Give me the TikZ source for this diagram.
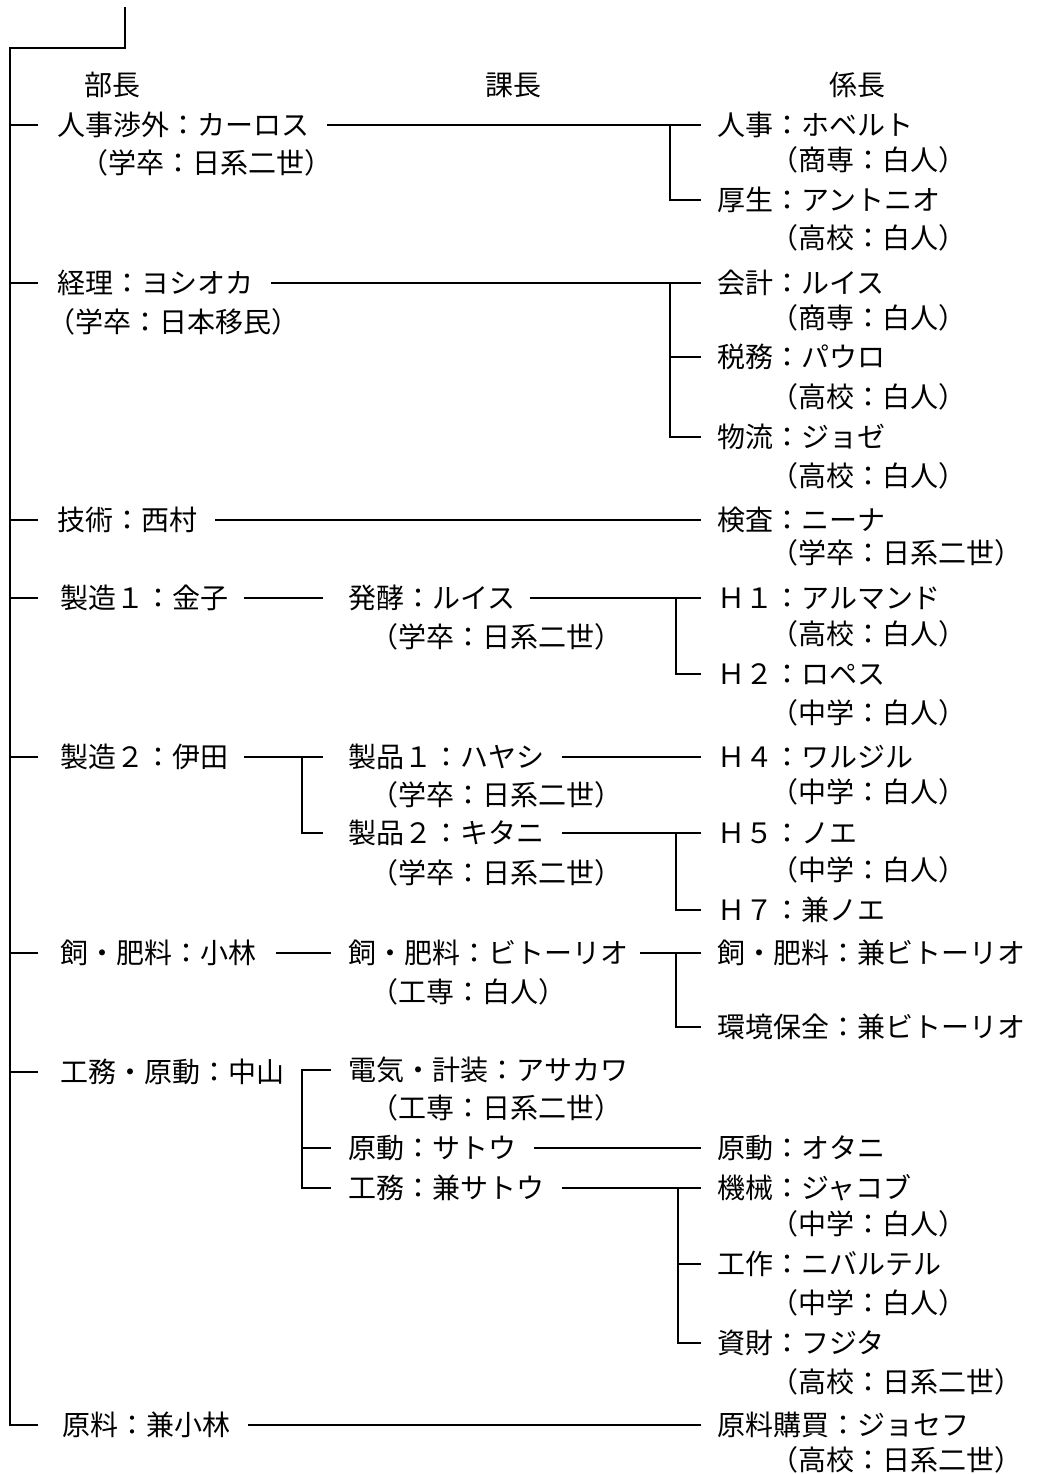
\documentclass[tikz,border=0pt]{standalone}
\usepackage{fontspec}
\setmainfont{Noto Sans CJK JP}
\usetikzlibrary{calc}
\begin{document}
\begin{tikzpicture}[x=0.75pt,y=-0.75pt,
  lbl/.style={anchor=west, inner sep=0pt, text height=18pt, text depth=2pt,
              font=\fontsize{21}{25}\selectfont},
  hd/.style={lbl, anchor=center},
  ln/.style={line width=1.1pt, line cap=rect}]
\useasboundingbox (0,0) rectangle (1061,1474);

% headers
\node[hd] (h1) at (112,85) {部長};
\node[hd] (h2) at (513,85) {課長};
\node[hd] (h3) at (857,85) {係長};

% 部長
\node[lbl] (b1)  at (57,125)  {人事渉外：カーロス};
\node[lbl] (b1s) at (80,163)  {（学卒：日系二世）};
\node[lbl] (b2)  at (57,283)  {経理：ヨシオカ};
\node[lbl] (b2s) at (47,322)  {（学卒：日本移民）};
\node[lbl] (b3)  at (57,520)  {技術：西村};
\node[lbl] (b4)  at (60,598)  {製造１：金子};
\node[lbl] (b5)  at (60,757)  {製造２：伊田};
\node[lbl] (b6)  at (60,953)  {飼・肥料：小林};
\node[lbl] (b7)  at (60,1072) {工務・原動：中山};
\node[lbl] (b8)  at (62,1425) {原料：兼小林};

% 課長
\node[lbl] (c4)   at (348,598)  {発酵：ルイス};
\node[lbl] (c4s)  at (370,637)  {（学卒：日系二世）};
\node[lbl] (c51)  at (348,757)  {製品１：ハヤシ};
\node[lbl] (c51s) at (370,795)  {（学卒：日系二世）};
\node[lbl] (c52)  at (348,833)  {製品２：キタニ};
\node[lbl] (c52s) at (370,873)  {（学卒：日系二世）};
\node[lbl] (c6)   at (348,953)  {飼・肥料：ビトーリオ};
\node[lbl] (c6s)  at (370,992)  {（工専：白人）};
\node[lbl] (c71)  at (348,1070) {電気・計装：アサカワ};
\node[lbl] (c71s) at (370,1108) {（工専：日系二世）};
\node[lbl] (c72)  at (348,1148) {原動：サトウ};
\node[lbl] (c73)  at (348,1188) {工務：兼サトウ};

% 係長
\node[lbl] (k11)  at (717,125)  {人事：ホベルト};
\node[lbl] (k11s) at (770,160)  {（商専：白人）};
\node[lbl] (k12)  at (717,200)  {厚生：アントニオ};
\node[lbl] (k12s) at (770,238)  {（高校：白人）};
\node[lbl] (k21)  at (717,283)  {会計：ルイス};
\node[lbl] (k21s) at (770,318)  {（商専：白人）};
\node[lbl] (k22)  at (717,357)  {税務：パウロ};
\node[lbl] (k22s) at (770,397)  {（高校：白人）};
\node[lbl] (k23)  at (717,437)  {物流：ジョゼ};
\node[lbl] (k23s) at (770,476)  {（高校：白人）};
\node[lbl] (k3)   at (717,520)  {検査：ニーナ};
\node[lbl] (k3s)  at (770,553)  {（学卒：日系二世）};
\node[lbl] (k41)  at (717,598)  {Ｈ１：アルマンド};
\node[lbl] (k41s) at (770,634)  {（高校：白人）};
\node[lbl] (k42)  at (717,674)  {Ｈ２：ロペス};
\node[lbl] (k42s) at (770,713)  {（中学：白人）};
\node[lbl] (k51)  at (717,757)  {Ｈ４：ワルジル};
\node[lbl] (k51s) at (770,792)  {（中学：白人）};
\node[lbl] (k52)  at (717,833)  {Ｈ５：ノエ};
\node[lbl] (k52s) at (770,870)  {（中学：白人）};
\node[lbl] (k53)  at (717,910)  {Ｈ７：兼ノエ};
\node[lbl] (k61)  at (717,953)  {飼・肥料：兼ビトーリオ};
\node[lbl] (k62)  at (717,1027) {環境保全：兼ビトーリオ};
\node[lbl] (k71)  at (717,1148) {原動：オタニ};
\node[lbl] (k72)  at (717,1188) {機械：ジャコブ};
\node[lbl] (k72s) at (770,1224) {（中学：白人）};
\node[lbl] (k73)  at (717,1264) {工作：ニバルテル};
\node[lbl] (k73s) at (770,1303) {（中学：白人）};
\node[lbl] (k74)  at (717,1343) {資財：フジタ};
\node[lbl] (k74s) at (770,1382) {（高校：日系二世）};
\node[lbl] (k8)   at (717,1425) {原料購買：ジョセフ};
\node[lbl] (k8s)  at (770,1460) {（高校：日系二世）};

% trunk
\coordinate (top) at (125,8);
\coordinate (tr) at (10,48);
\coordinate (tk) at (37,0);
\draw[ln] (top) |- (tr) |- (b8.west -| tk);
\foreach \b in {b1,b2,b3,b4,b5,b6,b7}
  \draw[ln] (\b.west -| tr) -- (\b.west -| tk);

% row 1
\draw[ln] ($(b1.east)+(18,0)$) -- ($(k11.west)+(-17,0)$);
\draw[ln] ($(k11.west)+(-47,0)$) |- ($(k12.west)+(-17,0)$);
% row 2
\draw[ln] ($(b2.east)+(18,0)$) -- ($(k21.west)+(-17,0)$);
\draw[ln] ($(k21.west)+(-47,0)$) |- ($(k23.west)+(-17,0)$);
\draw[ln] ($(k22.west)+(-47,0)$) -- ($(k22.west)+(-17,0)$);
% row 3
\draw[ln] ($(b3.east)+(18,0)$) -- ($(k3.west)+(-17,0)$);
% row 4
\draw[ln] ($(b4.east)+(16,0)$) -- ($(c4.west)+(-26,0)$);
\draw[ln] ($(c4.east)+(15,0)$) -- ($(k41.west)+(-17,0)$);
\draw[ln] ($(k41.west)+(-41,0)$) |- ($(k42.west)+(-17,0)$);
% row 5
\draw[ln] ($(b5.east)+(16,0)$) -- ($(c51.west)+(-26,0)$);
\draw[ln] ($(c51.west)+(-46,0)$) |- ($(c52.west)+(-26,0)$);
\draw[ln] ($(c51.east)+(18,0)$) -- ($(k51.west)+(-17,0)$);
\draw[ln] ($(c52.east)+(18,0)$) -- ($(k52.west)+(-17,0)$);
\draw[ln] ($(k52.west)+(-41,0)$) |- ($(k53.west)+(-17,0)$);
% row 6
\draw[ln] ($(b6.east)+(20,0)$) -- ($(c6.west)+(-18,0)$);
\draw[ln] ($(c6.east)+(12,0)$) -- ($(k61.west)+(-17,0)$);
\draw[ln] ($(k61.west)+(-41,0)$) |- ($(k62.west)+(-17,0)$);
% row 7
\draw[ln] ($(c71.west)+(-18,0)$) -- ($(c71.west)+(-46,0)$) |- ($(c73.west)+(-18,0)$);
\draw[ln] ($(c72.west)+(-46,0)$) -- ($(c72.west)+(-18,0)$);
\draw[ln] ($(c72.east)+(18,0)$) -- ($(k71.west)+(-17,0)$);
\draw[ln] ($(c73.east)+(18,0)$) -- ($(k72.west)+(-17,0)$);
\draw[ln] ($(k72.west)+(-39,0)$) |- ($(k74.west)+(-17,0)$);
\draw[ln] ($(k73.west)+(-39,0)$) -- ($(k73.west)+(-17,0)$);
% row 8
\draw[ln] ($(b8.east)+(18,0)$) -- ($(k8.west)+(-17,0)$);
\end{tikzpicture}
\end{document}
